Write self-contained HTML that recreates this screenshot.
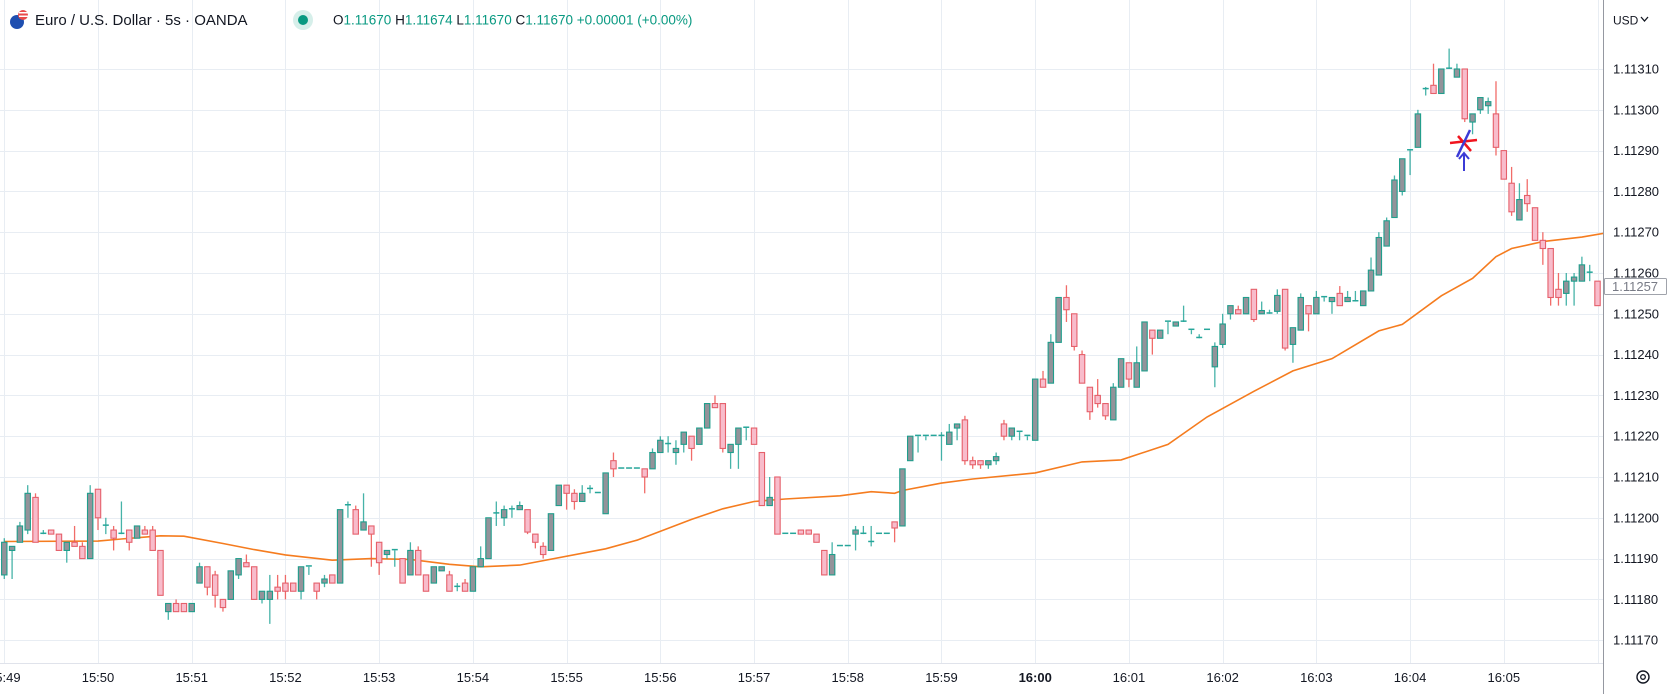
<!DOCTYPE html>
<html><head><meta charset="utf-8"><style>
html,body{margin:0;padding:0;background:#fff;width:1675px;height:694px;overflow:hidden}
svg{display:block;font-family:"Liberation Sans",sans-serif}
</style></head><body>
<svg id="chart" width="1675" height="694" viewBox="0 0 1675 694" xmlns="http://www.w3.org/2000/svg">
<defs><clipPath id="plotclip"><rect x="0" y="0" width="1603" height="663"/></clipPath></defs>
<rect x="0" y="0" width="1675" height="694" fill="#fff"/>
<g id="grid"></g>
<g id="ma" clip-path="url(#plotclip)"></g>
<g id="candles" clip-path="url(#plotclip)"></g>
<g id="markers">
  <line x1="1450" y1="143" x2="1477" y2="140" stroke="#f0141e" stroke-width="2.5"/>
  <line x1="1458" y1="136" x2="1471" y2="151" stroke="#f0141e" stroke-width="2.5"/>
  <line x1="1457" y1="157" x2="1470" y2="130" stroke="#3b3bd6" stroke-width="2.5"/>
  <line x1="1464" y1="154" x2="1464" y2="171" stroke="#3b3bd6" stroke-width="2"/>
  <polyline points="1459,159 1464,153 1469,159" fill="none" stroke="#3b3bd6" stroke-width="2"/>
</g>
<line x1="0" y1="663.5" x2="1603" y2="663.5" stroke="#e0e3eb"/>
<line x1="1603.5" y1="0" x2="1603.5" y2="694" stroke="#9598a1"/>
<g id="yaxis"></g>
<g id="xaxis"></g>
<g>
  <rect x="1604.5" y="278.5" width="62" height="16" fill="#fff" stroke="#a0a3ab" rx="1"/>
  <text x="1612" y="291" font-size="13" fill="#787b86">1.11257</text>
</g>
<g>
  <rect x="1608" y="9" width="44" height="22" rx="3" fill="#fff"/>
  <text x="1613" y="24.5" font-size="12" fill="#131722">USD</text>
  <path d="M1641 17 l3.5 4 l3.5 -4" fill="none" stroke="#131722" stroke-width="1.3"/>
</g>
<g>
  <circle cx="1643" cy="677" r="6" fill="none" stroke="#131722" stroke-width="1.4"/>
  <circle cx="1643" cy="677" r="2.3" fill="none" stroke="#131722" stroke-width="1.3"/>
</g>
<g>
  <g>
    <circle cx="17" cy="22" r="7" fill="#1f4fb0"/>
    <circle cx="23" cy="15" r="5" fill="#e94a4a"/>
    <rect x="19" y="12" width="9" height="1.5" fill="#fff"/><rect x="19" y="15.5" width="9" height="1.5" fill="#fff"/>
  </g>
  <text x="35" y="25" font-size="15" fill="#131722">Euro / U.S. Dollar · 5s · OANDA</text>
  <circle cx="303" cy="20" r="10" fill="#d6efea"/><circle cx="303" cy="20" r="5" fill="#089981"/>
  <text x="333" y="24.5" font-size="13.5" fill="#089981"><tspan fill="#131722">O</tspan>1.11670 <tspan fill="#131722">H</tspan>1.11674 <tspan fill="#131722">L</tspan>1.11670 <tspan fill="#131722">C</tspan>1.11670 +0.00001 (+0.00%)</text>
</g>
<script>
const opens=[186,192,194,197,205,196,197,196,192,194,193,190,207,198,197,196,197,195,197,197,192,177,179,179,177,184,188,186,180,180,186,189,188,180,180,183,184,184,182,188,184,184,186,184,203,202,197,198,194,191,192,190,186,192,186,184,187,186,183,184,182,188,190,201,200,202,202,202,196,193,192,203,208,206,204,207,206,201,214,212,212,212,212,212,216,218,216,218,220,218,222,228,228,216,218,222,222,216,203,210,196,196,197,197,196,192,186,193,193,196,196,194,196,196,199,198,214,220,220,220,220,218,222,224,214,214,213,214,223,220,221,220,219,234,233,243,254,250,240,232,230,228,224,232,238,232,236,246,244,248,247,248,246,244,246,237,242.5,250,251,250,256,250,250,250.6,256,242.5,246,252,250,254,253,255,253,253,252,255.6,259.5,266.6,273.6,280,290,290.8,305,306,304,310,308,310,297,300,301,299,290,282,273,279,276,268,266,256,255,258,258,260,258];
const highs=[195,193,199,208,206,197,197,196,194,198,194,208,207,200,198,204,197,198,198,198,192,179,180,179,179,189,188,187,180,187,190,191,188,182,186,186,186,184,188,188,184,186,186,202,204,203,206,198,194,192,192,190,194,193,186,188,188,187,184,185,188,193,200,204,203,203,204,202,196,194,201,208,208,207,208,208,206,211,216,212,212,212,212,217,220,220,219,221,220,222,228,230,228,218,222,222,222,216,210,210,196,196,197,197,196,192,194,193,193,198,198,198,196,196,199,212,220,220,220,220,221,223,223,225,215,214,214,216,224,222,221,220,234,236,245,254,257,250,241,232,234,228,233,239,238,242,248,246,246,248,248,252,246,245,246,243,250,252,252,254,256,253,251,256,256,246.6,255,252,255.6,254,254,256.8,255.6,255.6,255.6,263.8,270,273.6,283.9,288,290,300,305.6,311.3,310,315,311.3,310,299,303,303,307,290,286,282,283,276,270,266,260,260,260,264,262,258];
const lows=[185,185,194,196,194,196,196,192,189,193,190,190,197,196,192,196,192,195,196,192,181,175,177,177,177,184,181,178,177,180,185,188,180,179,174,180,180,182,180,186,180,183,184,184,200,196,197,188,186,190,188,184,186,186,182,184,187,182,182,182,182,188,190,198,198,200,202,196,192.5,190,192,203,202,202,204,206,206,201,210,212,212,212,206,212,216,216,213,216,214,218,222,227,216,212,212,219,218,203,203,196,196,196,196,196,194,186,186,193,193,192,196,193,196,196,194,198,214,216,219,220,214,218,219,213,212,212,212,213,219,219,219,219,219,232,233,243,248,241,233,224,227,224,224,232,232,232,236,240,244,245,247,248,245,244,246,232,241.6,248.6,250,250,248,250,250,250,241,238,246,245.7,250,253,250,252,253,253,252,255.6,259.5,266.6,273.6,279,284,290.8,303.5,304,304,310,308,297,294,299,299,288.8,283,274,273,275,268,262,252,252,252,252,258,258,252];
const closes=[194,193,198,206,194,196.2,196,192,194,193,190,206,200,198.2,195,196.2,194,198,196,192,181,179,177,177,179,188,183,181,178,187,190,188,180,182,182,182,182,182,188,188.2,182,185,184,202,203.2,196,199,196,189,192,192.2,184,192,186,182,188,188,182,183.2,182,188,190,200,201.2,202,202.2,203,196.5,194,191,201,208,206,204,206,207.2,206.2,211,212,212.2,212.2,212.2,210,216,219,218.2,217,221,217,222,228,227,217,218,222,222.2,218,203,205,196,196.2,196.2,196,196,194,186,191,193.2,193.2,197,196.2,194.2,196.2,196.2,197.5,212,220,220.2,220.2,220.2,220.2,221,223,214,213,213,214,215,220,222,221.2,220.2,234,232,243,254,251,242,233,226,228,225,232,239,234,238,248,244,246,248.2,248,248.2,246.2,244.2,246.2,242,247.5,252,250,254,248.6,250.8,250.2,254.5,241.6,246.6,254,250,254,254.2,254,252,254,253.2,255.6,260.7,268.7,272.8,282.8,288,290.2,299,305.2,304,310,310.2,310,297.8,299,303,302,290.8,283,275,278,277,268,266,254,254,258,259,262,260.2,252];
const maIdx=[0,12,15,20,23,28,32,36,42,47,52,57,61,66,77,81,88,92,96,100,107,111,114,115,120,124,132,138,143,149,154,160,165,170,176,179,184,188,191,193,197,202,205];
const maVal=[194.2,194.3,194.8,195.6,195.5,193.7,192.2,190.9,189.6,190,189.8,188.6,188,188.4,192.4,194.5,199.6,202.2,204,204.6,205.4,206.4,206,206.7,208.5,209.5,211,213.7,214.2,218,224.7,231,236,239,245.8,247.4,254.4,258.7,264,266,267.7,268.8,269.8];
const priceTicks=[170,180,190,200,210,220,230,240,250,260,270,280,290,300,310];
const timeLabels=["15:49","15:50","15:51","15:52","15:53","15:54","15:55","15:56","15:57","15:58","15:59","16:00","16:01","16:02","16:03","16:04","16:05","16:06"];

const NS="http://www.w3.org/2000/svg";
const xs=i=>98+(i-12)*7.81;
const ys=v=>69+(310-v)*4.08;
function mk(tag,attrs,parent){const e=document.createElementNS(NS,tag);for(const k in attrs)e.setAttribute(k,attrs[k]);parent.appendChild(e);return e;}
const grid=document.getElementById('grid'),yax=document.getElementById('yaxis'),xax=document.getElementById('xaxis');
priceTicks.forEach(p=>{
  const y=Math.round(ys(p))+0.5;
  const l=mk('line',{x1:0,x2:1603,y1:y,y2:y,stroke:'#e8edf3'},grid);
  
  
  const t=mk('text',{x:1613,y:ys(p)+4.5,'font-size':13,fill:'#131722'},yax);
  t.textContent='1.11'+p;
  
  
});
timeLabels.forEach((s,k)=>{
  const x=xs(k*12);
  const l=mk('line',{x1:Math.round(x)+0.5,x2:Math.round(x)+0.5,y1:0,y2:663,stroke:'#e8edf3'},grid);
  
  
  if(x>1590)return;
  const t=mk('text',{x:x,y:682,'font-size':13,fill:'#131722','text-anchor':'middle','font-weight':s==='16:00'?'bold':'normal'},xax);
  t.textContent=s;
  
  
});
// clipped 16:06 label
const tclip=mk('text',{x:xs(17*12),y:682,'font-size':13,fill:'#131722','text-anchor':'middle','clip-path':'url(#plotclip)'},xax);
tclip.textContent=timeLabels[17];



const ma=document.getElementById('ma');
const pts=maIdx.map((i,k)=>xs(i).toFixed(1)+','+ys(maVal[k]).toFixed(1)).join(' ');
const pl=mk('polyline',{points:pts,fill:'none',stroke:'#f57c1f','stroke-width':1.6},ma);



const cg=document.getElementById('candles');
opens.forEach((o,i)=>{
  const c=closes[i],h=highs[i],lo=lows[i];
  const up=c>=o;
  const g=mk('g',{},cg);
  
  
  const x=xs(i);
  const wick=up?'#26a69a':'#ef5350';
  mk('line',{x1:x,x2:x,y1:ys(h),y2:ys(lo),stroke:wick,'stroke-width':1.3,opacity:0.85},g);
  const top=ys(Math.max(o,c)),bot=ys(Math.min(o,c));
  const hgt=Math.max(bot-top,1.2);
  if(bot-top<1.5){
    mk('line',{x1:x-3,x2:x+3,y1:top,y2:top,stroke:wick,'stroke-width':1.5},g);
  } else {
    mk('rect',{x:x-2.7,y:top,width:5.4,height:hgt,fill:up?'#93939a':'#f8bccb',stroke:up?'#1f9e8c':'#e5606b','stroke-width':1.1},g);
  }
});
</script>
</svg>
</body></html>
